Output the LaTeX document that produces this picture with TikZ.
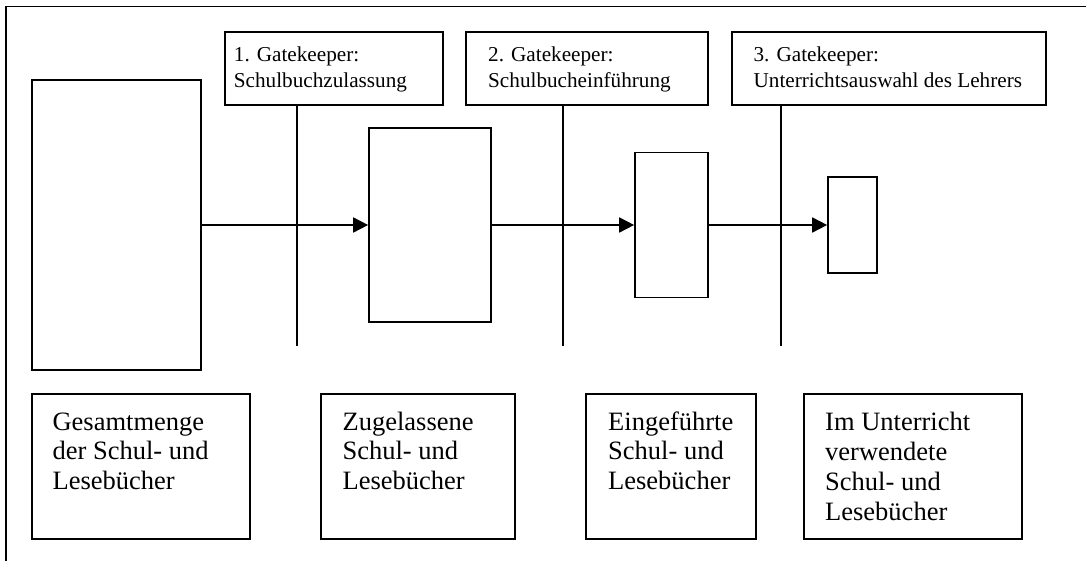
\documentclass[tikz,border=0pt]{standalone}
\usepackage{fontspec}
\setmainfont{Liberation Serif}
\usetikzlibrary{arrows.meta}
\begin{document}
\begin{tikzpicture}[x=1pt,y=-1pt,
  line width=1.8pt,
  frame/.style={draw, rectangle, inner sep=0pt},
  % text blocks are placed by the baseline of their last line
  gatetext/.style={anchor=base west, align=left, inner sep=0pt,
    font=\fontsize{21.2}{25.3}\selectfont},
  settext/.style={anchor=base west, align=left, inner sep=0pt,
    font=\fontsize{26.5}{29.9}\selectfont},
  flow/.style={-{Triangle[length=15pt,width=15pt]}}]
\useasboundingbox (0,0) rectangle (1086,561);

% open outer frame (top and left edges)
\coordinate (frameBL) at (6,561);
\coordinate (frameTL) at (6,6.5);
\coordinate (frameTR) at (1086,6.5);
\draw (frameBL) -- (frameTL) -- (frameTR);

% shrinking sets of books
\node[frame, minimum width=169pt,   minimum height=290pt]   (set1) at (116.5,225) {};
\node[frame, minimum width=121.7pt, minimum height=193.4pt] (set2) at (429.9,225) {};
\node[frame, minimum width=72.7pt,  minimum height=145pt]   (set3) at (671.4,225) {};
\node[frame, minimum width=48.7pt,  minimum height=96.7pt]  (set4) at (852.4,225) {};

% gatekeepers
\node[frame, minimum width=217.7pt, minimum height=73pt] (g1) at (333.8,68.5) {};
\node[frame, minimum width=242pt,   minimum height=73pt] (g2) at (587,68.5) {};
\node[frame, minimum width=314pt,   minimum height=73pt] (g3) at (889,68.5) {};
\node[gatetext] (g1t) at (233,87.3)   {1. Gatekeeper:\\Schulbuchzulassung};
\node[gatetext] (g2t) at (487.3,87.3) {2. Gatekeeper:\\Schulbucheinführung};
\node[gatetext] (g3t) at (752.7,87.3) {3. Gatekeeper:\\Unterrichtsauswahl des Lehrers};

% gate barriers
\coordinate (gl1) at (297,346);
\coordinate (gl2) at (563,346);
\coordinate (gl3) at (780.7,346);
\draw (g1.south -| gl1) -- (gl1);
\draw (g2.south -| gl2) -- (gl2);
\draw (g3.south -| gl3) -- (gl3);

% flow between the sets
\draw[flow] (set1.east) -- (set2.west);
\draw[flow] (set2.east) -- (set3.west);
\draw[flow] (set3.east) -- (set4.west);

% captions
\node[frame, minimum width=218pt,   minimum height=145.3pt] (c1) at (140.7,466.7) {};
\node[frame, minimum width=194pt,   minimum height=145.3pt] (c2) at (418,466.7) {};
\node[frame, minimum width=170.3pt, minimum height=145.3pt] (c3) at (671.2,466.7) {};
\node[frame, minimum width=218pt,   minimum height=145.3pt] (c4) at (913,466.7) {};
\node[settext] (c1t) at (51.7,489.8)  {Gesamtmenge\\der Schul- und\\Lesebücher};
\node[settext] (c2t) at (341.7,489.8) {Zugelassene\\Schul- und\\Lesebücher};
\node[settext] (c3t) at (607.3,489.8) {Eingeführte\\Schul- und\\Lesebücher};
\node[settext] (c4t) at (824.3,520.5) {Im Unterricht\\verwendete\\Schul- und\\Lesebücher};
\end{tikzpicture}
\end{document}
